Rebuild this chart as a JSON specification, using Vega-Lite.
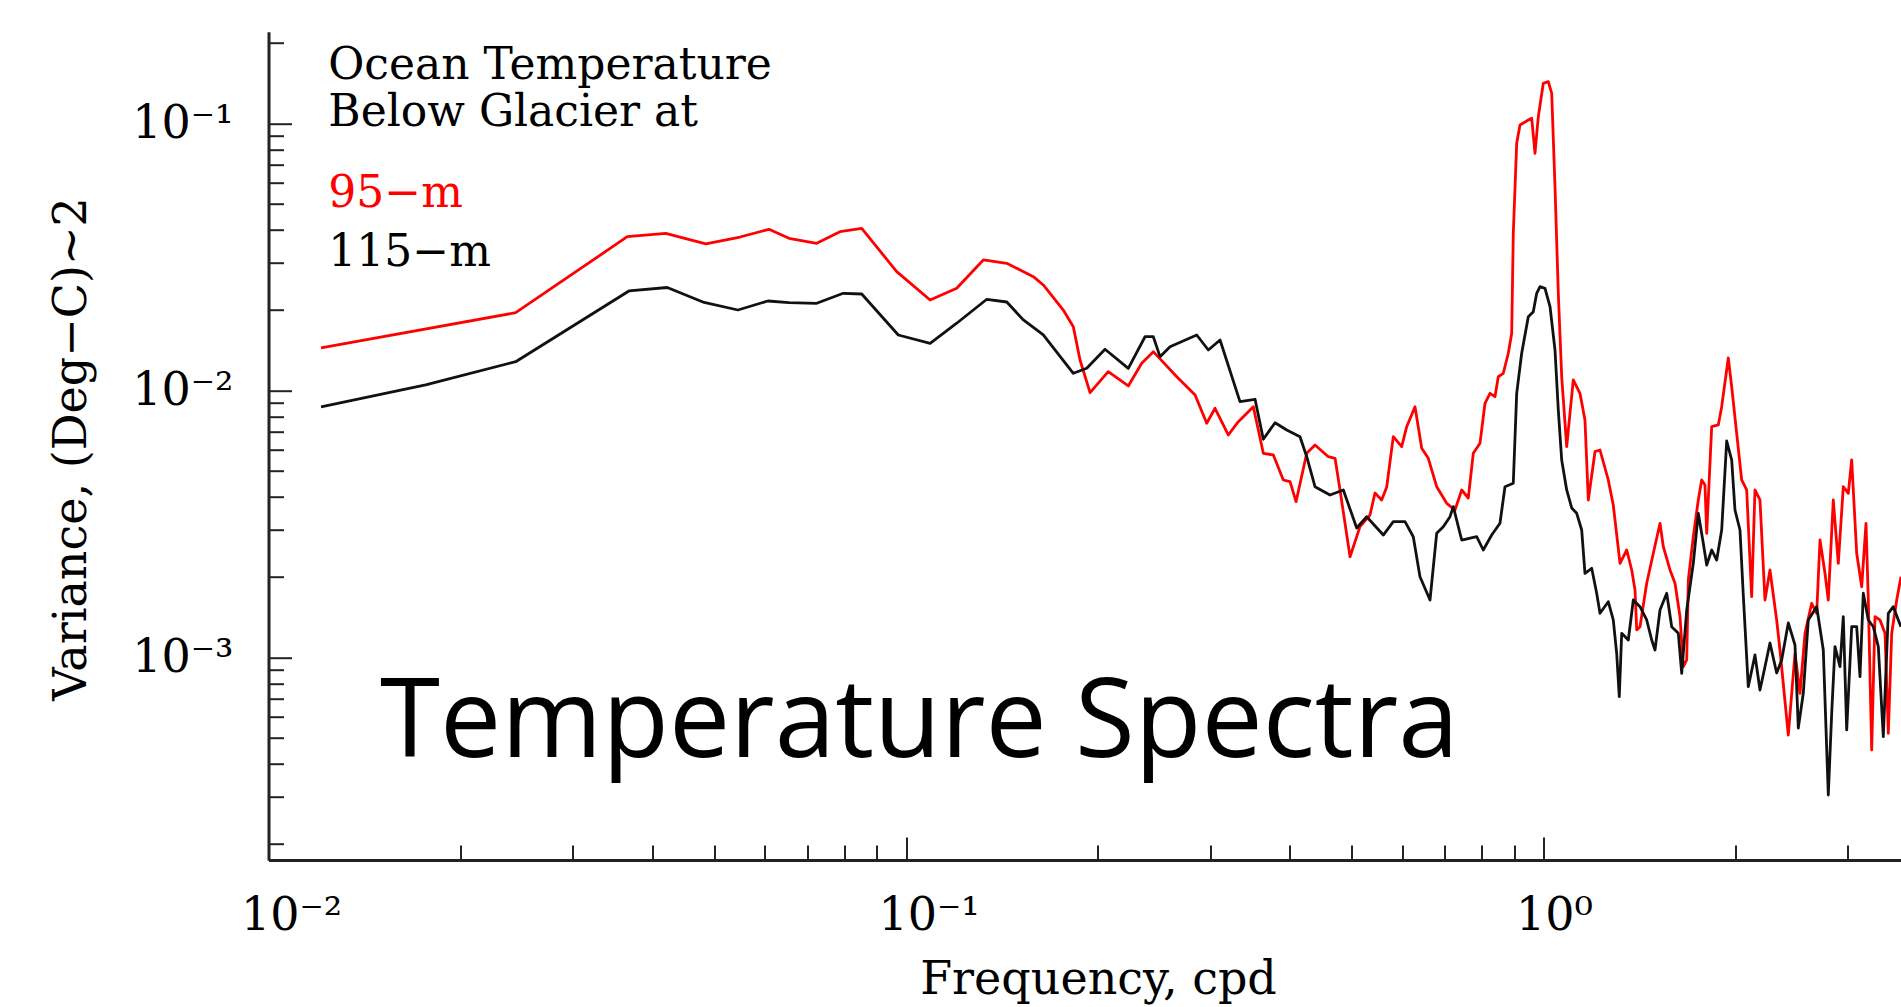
{
  "$schema": "https://vega.github.io/schema/vega-lite/v6.json",
  "width": 1632.5,
  "height": 828.3,
  "autosize": {"type": "none"},
  "padding": {"left": 268.5, "top": 31.7, "right": 0, "bottom": 147},
  "background": "white",
  "config": {
    "view": {"stroke": null},
    "axis": {
      "domainColor": "#222", "domainWidth": 3,
      "tickColor": "#222", "tickWidth": 2,
      "labelFont": "DejaVu Serif", "labelFontSize": 46, "labelColor": "#000",
      "titleFont": "DejaVu Serif", "titleFontSize": 46, "titleFontWeight": "normal", "titleColor": "#000",
      "grid": false, "labelFlush": false, "labelOverlap": false, "labelBound": false
    }
  },
  "datasets": {
    "red": [
      {"f":0.01209,"v":0.01443},{"f":0.02442,"v":0.01956},{"f":0.03654,"v":0.03767},{"f":0.04198,"v":0.0388},
      {"f":0.04853,"v":0.03538},{"f":0.0549,"v":0.03757},{"f":0.06095,"v":0.04016},{"f":0.06553,"v":0.03716},
      {"f":0.07243,"v":0.03559},{"f":0.07879,"v":0.03933},{"f":0.08522,"v":0.0405},{"f":0.0967,"v":0.02786},
      {"f":0.1091,"v":0.02182},{"f":0.1201,"v":0.02414},{"f":0.1322,"v":0.03082},{"f":0.1439,"v":0.02995},
      {"f":0.1584,"v":0.02669},{"f":0.1642,"v":0.02484},{"f":0.1765,"v":0.02002},{"f":0.183,"v":0.01734},
      {"f":0.1875,"v":0.01301},{"f":0.1944,"v":0.009812},{"f":0.2076,"v":0.01176},{"f":0.2232,"v":0.0104},
      {"f":0.2343,"v":0.01264},{"f":0.2443,"v":0.01398},{"f":0.2659,"v":0.01126},{"f":0.2841,"v":0.009619},
      {"f":0.2963,"v":0.007539},{"f":0.3053,"v":0.008577},{"f":0.3203,"v":0.006813},{"f":0.3321,"v":0.007644},
      {"f":0.3506,"v":0.008697},{"f":0.3635,"v":0.005818},{"f":0.3769,"v":0.005734},{"f":0.3907,"v":0.004622},
      {"f":0.4003,"v":0.004555},{"f":0.4091,"v":0.003833},{"f":0.4252,"v":0.005818},{"f":0.4381,"v":0.00625},
      {"f":0.4597,"v":0.00565},{"f":0.471,"v":0.005573},{"f":0.4795,"v":0.00424},{"f":0.4972,"v":0.002385},
      {"f":0.5154,"v":0.00309},{"f":0.5343,"v":0.003418},{"f":0.5441,"v":0.004131},{"f":0.5574,"v":0.00389},
      {"f":0.5676,"v":0.004351},{"f":0.5813,"v":0.006714},{"f":0.5992,"v":0.006159},{"f":0.6101,"v":0.007318},
      {"f":0.6287,"v":0.008697},{"f":0.6441,"v":0.006073},{"f":0.6596,"v":0.005573},{"f":0.6799,"v":0.004362},
      {"f":0.7049,"v":0.00378},{"f":0.7264,"v":0.003568},{"f":0.7442,"v":0.00424},{"f":0.7621,"v":0.003957},
      {"f":0.776,"v":0.005818},{"f":0.795,"v":0.006342},{"f":0.8095,"v":0.008955},{"f":0.8242,"v":0.009761},
      {"f":0.8392,"v":0.00948},{"f":0.8493,"v":0.01126},{"f":0.8648,"v":0.0116},{"f":0.8806,"v":0.01379},
      {"f":0.8915,"v":0.01638},{"f":0.8966,"v":0.0388},{"f":0.9077,"v":0.08432},{"f":0.9186,"v":0.09871},
      {"f":0.9466,"v":0.1031},{"f":0.9583,"v":0.1046},{"f":0.9698,"v":0.07737},{"f":0.9814,"v":0.106},
      {"f":0.9993,"v":0.1414},{"f":1.0175,"v":0.1434},{"f":1.0301,"v":0.1297},{"f":1.0424,"v":0.05798},
      {"f":1.0549,"v":0.02312},{"f":1.0679,"v":0.01126},{"f":1.0874,"v":0.006159},{"f":1.1136,"v":0.01095},
      {"f":1.1408,"v":0.009761},{"f":1.1616,"v":0.007754},{"f":1.1756,"v":0.00389},{"f":1.2044,"v":0.005899},
      {"f":1.2263,"v":0.005986},{"f":1.2636,"v":0.004622},{"f":1.2866,"v":0.003725},{"f":1.3183,"v":0.002253},
      {"f":1.3506,"v":0.002527},{"f":1.3752,"v":0.002127},{"f":1.3917,"v":0.00179},{"f":1.4003,"v":0.001268},
      {"f":1.417,"v":0.001304},{"f":1.4517,"v":0.001897},{"f":1.4868,"v":0.002456},{"f":1.5232,"v":0.003181},
      {"f":1.5415,"v":0.0026},{"f":1.5792,"v":0.002127},{"f":1.608,"v":0.001897},{"f":1.6373,"v":0.001422},
      {"f":1.6569,"v":0.0009238},{"f":1.6774,"v":0.0009787},{"f":1.6871,"v":0.001951},{"f":1.7178,"v":0.002834},
      {"f":1.7491,"v":0.00389},{"f":1.7707,"v":0.004622},{"f":1.7919,"v":0.004427},{"f":1.803,"v":0.002918},
      {"f":1.8358,"v":0.007318},{"f":1.8801,"v":0.007429},{"f":1.9033,"v":0.008697},{"f":1.9492,"v":0.01324},
      {"f":1.9733,"v":0.01033},{"f":2.0092,"v":0.006914},{"f":2.0458,"v":0.004622},{"f":2.0831,"v":0.00424},
      {"f":2.121,"v":0.001689},{"f":2.1464,"v":0.00424},{"f":2.1855,"v":0.00389},{"f":2.2254,"v":0.001642},
      {"f":2.2659,"v":0.002127},{"f":2.3214,"v":0.001382},{"f":2.3492,"v":0.001067},{"f":2.421,"v":0.0005125},
      {"f":2.4803,"v":0.001037},{"f":2.5254,"v":0.0007344},{"f":2.5715,"v":0.001232},{"f":2.6345,"v":0.001596},
      {"f":2.6825,"v":0.001464},{"f":2.7147,"v":0.002754},{"f":2.7641,"v":0.002067},{"f":2.7973,"v":0.001642},
      {"f":2.8482,"v":0.00389},{"f":2.9001,"v":0.002253},{"f":2.953,"v":0.004362},{"f":3.0068,"v":0.004121},
      {"f":3.0439,"v":0.005491},{"f":3.0994,"v":0.002456},{"f":3.156,"v":0.001841},{"f":3.2054,"v":0.003181},
      {"f":3.2321,"v":0.001642},{"f":3.272,"v":0.0004505},{"f":3.3113,"v":0.001422},{"f":3.3716,"v":0.001382},
      {"f":3.4331,"v":0.001232},{"f":3.4742,"v":0.0005201},{"f":3.5172,"v":0.001232},{"f":3.5813,"v":0.001642},
      {"f":3.6373,"v":0.002007}
    ],
    "black": [
      {"f":0.01209,"v":0.008675},{"f":0.01764,"v":0.01049},{"f":0.02442,"v":0.01282},{"f":0.03676,"v":0.02359},
      {"f":0.04222,"v":0.02431},{"f":0.04823,"v":0.02136},{"f":0.0545,"v":0.02002},{"f":0.06073,"v":0.02164},
      {"f":0.06553,"v":0.02132},{"f":0.07243,"v":0.02121},{"f":0.07973,"v":0.02312},{"f":0.08522,"v":0.02298},
      {"f":0.09726,"v":0.01614},{"f":0.1091,"v":0.01502},{"f":0.1201,"v":0.01786},{"f":0.1339,"v":0.02196},
      {"f":0.1439,"v":0.02145},{"f":0.1528,"v":0.01837},{"f":0.1642,"v":0.01614},{"f":0.183,"v":0.0116},
      {"f":0.1921,"v":0.01211},{"f":0.2052,"v":0.01427},{"f":0.2232,"v":0.01211},{"f":0.2371,"v":0.0159},
      {"f":0.2443,"v":0.0159},{"f":0.2503,"v":0.01339},{"f":0.2595,"v":0.01459},{"f":0.2858,"v":0.01614},
      {"f":0.298,"v":0.01418},{"f":0.3109,"v":0.01546},{"f":0.3341,"v":0.00908},{"f":0.3528,"v":0.00927},
      {"f":0.3635,"v":0.006565},{"f":0.3792,"v":0.007575},{"f":0.3956,"v":0.007113},{"f":0.415,"v":0.006714},
      {"f":0.4252,"v":0.00565},{"f":0.4381,"v":0.004362},{"f":0.4625,"v":0.004061},{"f":0.4853,"v":0.00424},
      {"f":0.5093,"v":0.003055},{"f":0.528,"v":0.003368},{"f":0.5607,"v":0.002875},{"f":0.5813,"v":0.003226},
      {"f":0.6064,"v":0.003226},{"f":0.6248,"v":0.002834},{"f":0.6401,"v":0.002007},{"f":0.6637,"v":0.001642},
      {"f":0.6799,"v":0.002918},{"f":0.6963,"v":0.00309},{"f":0.7134,"v":0.003368},{"f":0.7219,"v":0.003671},
      {"f":0.7442,"v":0.002754},{"f":0.7856,"v":0.002834},{"f":0.8045,"v":0.002527},{"f":0.8293,"v":0.002875},
      {"f":0.8545,"v":0.003181},{"f":0.8701,"v":0.004362},{"f":0.8966,"v":0.004492},{"f":0.9077,"v":0.009761},
      {"f":0.9242,"v":0.01379},{"f":0.9466,"v":0.0189},{"f":0.9638,"v":0.01973},{"f":0.9757,"v":0.02312},
      {"f":0.9874,"v":0.02448},{"f":1.0054,"v":0.02414},{"f":1.0238,"v":0.0206},{"f":1.0424,"v":0.01418},
      {"f":1.0549,"v":0.008454},{"f":1.0679,"v":0.005491},{"f":1.0874,"v":0.00424},{"f":1.1072,"v":0.003631},
      {"f":1.1274,"v":0.003468},{"f":1.1479,"v":0.003003},{"f":1.1616,"v":0.002067},{"f":1.1901,"v":0.002158},
      {"f":1.2118,"v":0.00174},{"f":1.2263,"v":0.001464},{"f":1.2636,"v":0.001618},{"f":1.2866,"v":0.001382},
      {"f":1.3025,"v":0.001037},{"f":1.3148,"v":0.0007131},{"f":1.3264,"v":0.001232},{"f":1.3584,"v":0.001163},
      {"f":1.3832,"v":0.001642},{"f":1.417,"v":0.00155},{"f":1.4517,"v":0.001382},{"f":1.4782,"v":0.001163},
      {"f":1.4959,"v":0.001067},{"f":1.5232,"v":0.001506},{"f":1.5605,"v":0.00174},{"f":1.5889,"v":0.001304},
      {"f":1.6273,"v":0.001232},{"f":1.6474,"v":0.0008727},{"f":1.6774,"v":0.001506},{"f":1.7178,"v":0.002253},
      {"f":1.7491,"v":0.003468},{"f":1.781,"v":0.002678},{"f":1.803,"v":0.00222},{"f":1.8358,"v":0.002527},
      {"f":1.8693,"v":0.002318},{"f":1.9033,"v":0.003003},{"f":1.938,"v":0.006469},{"f":1.9733,"v":0.005491},
      {"f":1.9969,"v":0.003568},{"f":2.0333,"v":0.003003},{"f":2.0577,"v":0.001714},{"f":2.0951,"v":0.0007775},
      {"f":2.1464,"v":0.001022},{"f":2.1855,"v":0.0007555},{"f":2.2254,"v":0.0009238},{"f":2.2659,"v":0.001133},
      {"f":2.3214,"v":0.000875},{"f":2.3637,"v":0.0009787},{"f":2.421,"v":0.001347},{"f":2.4803,"v":0.001114},
      {"f":2.51,"v":0.0005444},{"f":2.5557,"v":0.0007344},{"f":2.6023,"v":0.001382},{"f":2.6825,"v":0.00155},
      {"f":2.7472,"v":0.001067},{"f":2.7973,"v":0.0003055},{"f":2.8318,"v":0.0006181},{"f":2.8657,"v":0.001098},
      {"f":2.918,"v":0.0009238},{"f":2.953,"v":0.001422},{"f":2.9895,"v":0.0005353},{"f":3.0439,"v":0.001304},
      {"f":3.0994,"v":0.001304},{"f":3.1366,"v":0.0008476},{"f":3.1743,"v":0.00174},{"f":3.2321,"v":0.001382},
      {"f":3.291,"v":0.001304},{"f":3.351,"v":0.001098},{"f":3.4121,"v":0.000505},{"f":3.4742,"v":0.001464},
      {"f":3.5376,"v":0.00155},{"f":3.602,"v":0.001382},{"f":3.6373,"v":0.001304}
    ],
    "blackText": [
      {"t":"Ocean Temperature","f":0.012411,"v":0.14636},
      {"t":"Below Glacier at","f":0.012411,"v":0.09787},
      {"t":"115−m","f":0.012411,"v":0.02926}
    ],
    "redText": [
      {"t":"95−m","f":0.012411,"v":0.04881}
    ],
    "bigText": [
      {"t":"Temperature Spectra","f":0.014962,"v":0.0004229}
    ]
  },
  "encoding": {
    "x": {
      "field": "f", "type": "quantitative",
      "scale": {"type": "log", "domain": [0.01, 3.6373], "nice": false, "zero": false},
      "axis": {
        "values": [0.01,0.02,0.03,0.04,0.05,0.06,0.07,0.08,0.09,0.1,0.2,0.3,0.4,0.5,0.6,0.7,0.8,0.9,1,2,3],
        "title": "Frequency,  cpd",
        "titleX": 829.5, "titleY": 133, "titleBaseline": "alphabetic", "titleAlign": "center", "titleAngle": 0,
        "labelExpr": "datum.value == 0.001 ? '10⁻³' : datum.value == 0.01 ? '10⁻²' : datum.value == 0.1 ? '10⁻¹' : datum.value == 1 ? '10⁰' : ''",
        "labelAlign": "left", "labelOffset": -28, "labelBaseline": "alphabetic", "labelPadding": 92,
        "tickSize": {"condition": {"test": "datum.value == 0.001 || datum.value == 0.01 || datum.value == 0.1 || datum.value == 1", "value": -23}, "value": -15}
      }
    },
    "y": {
      "field": "v", "type": "quantitative",
      "scale": {"type": "log", "domain": [0.0001744, 0.2207], "nice": false, "zero": false},
      "axis": {
        "values": [0.0002,0.0003,0.0004,0.0005,0.0006,0.0007,0.0008,0.0009,0.001,0.002,0.003,0.004,0.005,0.006,0.007,0.008,0.009,0.01,0.02,0.03,0.04,0.05,0.06,0.07,0.08,0.09,0.1,0.2],
        "title": "Variance,  (Deg−C)~2",
        "titleX": -183.5, "titleY": 416.8, "titleBaseline": "alphabetic", "titleAlign": "center", "titleAngle": 270,
        "labelExpr": "datum.value == 0.001 ? '10⁻³' : datum.value == 0.01 ? '10⁻²' : datum.value == 0.1 ? '10⁻¹' : datum.value == 1 ? '10⁰' : ''",
        "labelAlign": "right", "labelBaseline": "middle", "labelPadding": 58.5,
        "tickSize": {"condition": {"test": "datum.value == 0.001 || datum.value == 0.01 || datum.value == 0.1 || datum.value == 1", "value": -23}, "value": -15}
      }
    }
  },
  "layer": [
    {
      "data": {"name": "red"},
      "mark": {"type": "line", "color": "#ff0000", "strokeWidth": 2.8, "clip": true, "strokeJoin": "round"}
    },
    {
      "data": {"name": "black"},
      "mark": {"type": "line", "color": "#111111", "strokeWidth": 2.8, "clip": true, "strokeJoin": "round"}
    },
    {
      "data": {"name": "blackText"},
      "mark": {"type": "text", "align": "left", "baseline": "alphabetic", "font": "DejaVu Serif", "fontSize": 44, "color": "#000000"},
      "encoding": {"text": {"field": "t"}}
    },
    {
      "data": {"name": "redText"},
      "mark": {"type": "text", "align": "left", "baseline": "alphabetic", "font": "DejaVu Serif", "fontSize": 44, "color": "#ff0000"},
      "encoding": {"text": {"field": "t"}}
    },
    {
      "data": {"name": "bigText"},
      "mark": {"type": "text", "align": "left", "baseline": "alphabetic", "font": "Open Sans", "fontSize": 109, "color": "#000000"},
      "encoding": {"text": {"field": "t"}}
    }
  ]
}
